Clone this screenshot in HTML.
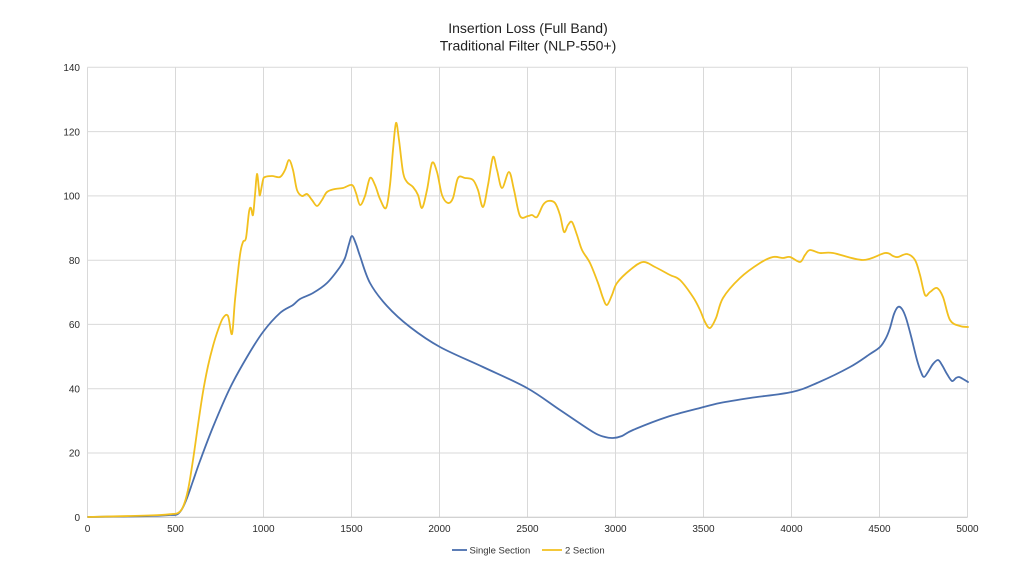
<!DOCTYPE html>
<html>
<head>
<meta charset="utf-8">
<style>
  html,body{margin:0;padding:0;background:#ffffff;}
  svg{display:block;}
  text{font-family:"Liberation Sans",Arial,sans-serif;}
</style>
</head>
<body>
<svg id="chart" width="1024" height="576" viewBox="0 0 1024 576" xmlns="http://www.w3.org/2000/svg">
  <rect x="0" y="0" width="1024" height="576" fill="#ffffff"/>

  <!-- Title -->
  <text x="528" y="33" font-size="14" fill="#222" text-anchor="middle">Insertion Loss (Full Band)</text>
  <text x="528" y="50.5" font-size="14" fill="#222" text-anchor="middle">Traditional Filter (NLP-550+)</text>

  <!-- Grid -->
  <g stroke="#d9d9d9" stroke-width="1" fill="none">
    <line x1="87.5" y1="67.3" x2="967.5" y2="67.3"/>
    <line x1="87.5" y1="131.6" x2="967.5" y2="131.6"/>
    <line x1="87.5" y1="195.9" x2="967.5" y2="195.9"/>
    <line x1="87.5" y1="260.2" x2="967.5" y2="260.2"/>
    <line x1="87.5" y1="324.4" x2="967.5" y2="324.4"/>
    <line x1="87.5" y1="388.7" x2="967.5" y2="388.7"/>
    <line x1="87.5" y1="453.0" x2="967.5" y2="453.0"/>
    <line x1="87.5" y1="67.3" x2="87.5" y2="517.3"/>
    <line x1="175.5" y1="67.3" x2="175.5" y2="517.3"/>
    <line x1="263.5" y1="67.3" x2="263.5" y2="517.3"/>
    <line x1="351.5" y1="67.3" x2="351.5" y2="517.3"/>
    <line x1="439.5" y1="67.3" x2="439.5" y2="517.3"/>
    <line x1="527.5" y1="67.3" x2="527.5" y2="517.3"/>
    <line x1="615.5" y1="67.3" x2="615.5" y2="517.3"/>
    <line x1="703.5" y1="67.3" x2="703.5" y2="517.3"/>
    <line x1="791.5" y1="67.3" x2="791.5" y2="517.3"/>
    <line x1="879.5" y1="67.3" x2="879.5" y2="517.3"/>
    <line x1="967.5" y1="67.3" x2="967.5" y2="517.3"/>
  </g>
  <line x1="87.5" y1="517.3" x2="967.5" y2="517.3" stroke="#c4c4c4" stroke-width="1"/>

  <!-- Y labels -->
  <g font-size="10" fill="#2b2b2b" text-anchor="end">
    <text x="80" y="71">140</text>
    <text x="80" y="135.3">120</text>
    <text x="80" y="199.6">100</text>
    <text x="80" y="263.9">80</text>
    <text x="80" y="328.1">60</text>
    <text x="80" y="392.4">40</text>
    <text x="80" y="456.7">20</text>
    <text x="80" y="521">0</text>
  </g>

  <!-- X labels -->
  <g font-size="10" fill="#2b2b2b" text-anchor="middle">
    <text x="87.5" y="532">0</text>
    <text x="175.5" y="532">500</text>
    <text x="263.5" y="532">1000</text>
    <text x="351.5" y="532">1500</text>
    <text x="439.5" y="532">2000</text>
    <text x="527.5" y="532">2500</text>
    <text x="615.5" y="532">3000</text>
    <text x="703.5" y="532">3500</text>
    <text x="791.5" y="532">4000</text>
    <text x="879.5" y="532">4500</text>
    <text x="967.5" y="532">5000</text>
  </g>

  <!-- Single Section (blue) -->
  <polyline class="series" fill="none" stroke="#4a6fae" stroke-width="1.8" stroke-linejoin="round" stroke-linecap="round"
    points="88,517 120,516.5 150,516 170,515 177,514.5 182,509 187,498 193,481 200,461 213,427 230,388 247,357 263,332 280,313 293,305 300,299 313,293 327,283 340,267 345,258 349,244 352,236 356,244 360,256 370,283 387,306 410,327 440,347 483,367 527,388 560,410 593,432 605,437 613,438 622,436 633,430 667,417 700,408 720,403 750,398 792,392 817,383 850,367 870,354 880,347 886,338 890,328 894,314 898,307 902,309 906,318 911,336 917,360 921,372 924,377 928,372 933,364 938,360 942,365 947,374 952,381 956,378 959,377 963,379 968,382"/>

  <!-- 2 Section (yellow) -->
  <polyline class="series" fill="none" stroke="#f2c01e" stroke-width="1.8" stroke-linejoin="round" stroke-linecap="round"
    points="88,517 130,516 160,515 172,514 178,513 183,507 188,490 193,460 198,425 203,392 208,366 213,346 218,330 223,318 228,316 232,334 235,300 240,255 243,242 246,238 249,212 251,208 253,215 255,195 257,174 259,190 260,195 263,180 265,177 272,176 280,177 285,170 289,160 293,170 297,190 302,196 307,194 312,200 317,206 322,200 327,192 335,189 343,188 352,185 356,193 360,205 365,196 370,178 375,185 380,199 386,208 390,185 393,150 396,123 399,140 403,172 407,182 413,187 418,195 422,208 427,190 432,163 437,172 442,195 448,203 453,198 458,178 465,178 473,180 478,190 483,207 488,185 493,157 497,170 502,188 509,172 514,190 520,216 528,216 532,215 537,217 543,205 548,201 555,203 560,215 564,232 568,225 572,222 577,235 582,250 590,263 598,283 603,298 607,305 612,295 617,283 630,270 643,262 655,267 670,275 680,280 693,297 700,310 705,322 710,328 716,318 723,298 740,278 760,263 773,257 783,258 790,257 800,262 805,255 810,250 820,253 833,253 863,260 885,253 893,256 898,257 907,254 915,260 920,275 925,295 930,292 937,288 943,297 950,320 960,326 968,327"/>

  <!-- Legend -->
  <line x1="452" y1="550" x2="467" y2="550" stroke="#4a6fae" stroke-width="1.8"/>
  <text x="469.5" y="553.5" font-size="9.5" fill="#333">Single Section</text>
  <line x1="542" y1="550" x2="562" y2="550" stroke="#f2c01e" stroke-width="1.8"/>
  <text x="565" y="553.5" font-size="9.5" fill="#333">2 Section</text>
</svg>
<script>
(function(){
  var NS = "http://www.w3.org/2000/svg";
  var lines = document.querySelectorAll("polyline.series");
  for (var k = 0; k < lines.length; k++) {
    var pl = lines[k];
    var raw = pl.getAttribute("points").trim().split(/\s+/);
    var p = raw.map(function(s){ var a = s.split(","); return [parseFloat(a[0]), parseFloat(a[1])]; });
    var d = "M" + p[0][0] + "," + p[0][1];
    for (var i = 0; i < p.length - 1; i++) {
      var p0 = p[i > 0 ? i - 1 : i], p1 = p[i], p2 = p[i + 1], p3 = p[i + 2 < p.length ? i + 2 : i + 1];
      var c1x = p1[0] + (p2[0] - p0[0]) / 6, c1y = p1[1] + (p2[1] - p0[1]) / 6;
      var c2x = p2[0] - (p3[0] - p1[0]) / 6, c2y = p2[1] - (p3[1] - p1[1]) / 6;
      d += " C" + c1x.toFixed(2) + "," + c1y.toFixed(2) + " " + c2x.toFixed(2) + "," + c2y.toFixed(2) + " " + p2[0] + "," + p2[1];
    }
    var path = document.createElementNS(NS, "path");
    path.setAttribute("d", d);
    path.setAttribute("fill", "none");
    path.setAttribute("stroke", pl.getAttribute("stroke"));
    path.setAttribute("stroke-width", pl.getAttribute("stroke-width"));
    path.setAttribute("stroke-linejoin", "round");
    path.setAttribute("stroke-linecap", "round");
    pl.parentNode.replaceChild(path, pl);
  }
})();
</script>
</body>
</html>
